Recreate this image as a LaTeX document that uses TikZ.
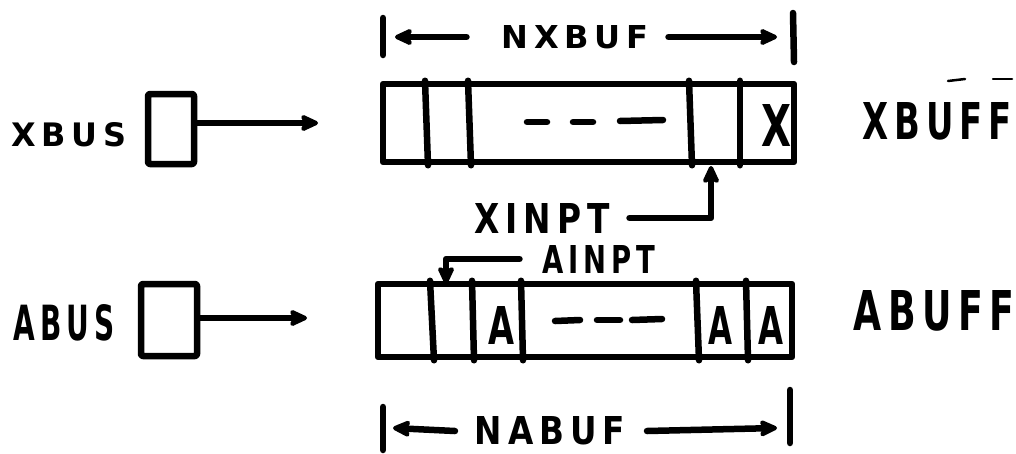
\documentclass[tikz,border=0pt]{standalone}
\usepackage{fontspec}
\setmainfont{DejaVu Sans}
\newfontfamily\hand{DejaVu Sans}[LetterSpace=18]
\usetikzlibrary{arrows.meta}
% hand-lettered label: width, cap height, text
\newcommand\hw[3]{\resizebox{#1pt}{#2pt}{\hand\bfseries #3}}
\begin{document}
\begin{tikzpicture}[x=1pt,y=-1pt,
  ink/.style={line width=6.5pt, line cap=round, line join=round},
  thin ink/.style={line width=2.5pt, line cap=round},
  tip/.style={-{Stealth[length=22pt,width=20pt,inset=5pt,round]}},
  lab/.style={inner sep=0pt, outer sep=0pt},
  cellbox/.style={draw, ink, inner sep=0pt},
  busbox/.style={draw, ink, inner sep=0pt, rounded corners=2pt}]
\useasboundingbox (0,0) rectangle (1016,453);

% ---------- X side ----------
\node[lab] (xbusl) at (69,135) {\hw{115}{24}{XBUS}};
\node[busbox, minimum width=46pt, minimum height=70pt] (xbusbox) at (171,129) {};
\coordinate (xin) at (318,123);
\draw[ink,tip] (xbusbox.east |- xin) -- (xin);

% XBUFF row of cells
\node[cellbox, minimum width=411pt, minimum height=78pt] (xbuf) at (588.5,123) {};
\foreach \a/\b in {425/428, 468/471, 689/692, 740/740}
  \draw[ink] (xbuf.north -| \a,0) -- (xbuf.south -| \b,0);
\draw[ink] (527,122) -- (547,122);
\draw[ink] (573,122) -- (593,122);
\draw[ink] (620,121) -- (663,120);
\node[lab] (xcell) at (776,125) {\hw{30}{42}{X}};
\node[lab] (xbufl) at (937,121) {\hw{150}{37}{XBUFF}};
\draw[thin ink] (948,81) -- (965,79);
\draw[thin ink] (993,79) -- (1012,79);

% NXBUF extent
\node[lab] (nx) at (575,37) {\hw{147}{23}{NXBUF}};
\coordinate (nxl) at (383,37);
\coordinate (nxr) at (793,37);
\draw[ink] (383,18) -- (383,55);
\draw[ink] (793,13) -- (794,62);
\draw[ink,tip] ([xshift=-35pt]nx.west) -- ([xshift=12pt]nxl);
\draw[ink,tip] ([xshift=20pt]nx.east) -- ([xshift=-16pt]nxr);

% XINPT pointer
\node[lab] (xinpt) at (542,218) {\hw{135}{30}{XINPT}};
\coordinate (xpt) at (711,166);
\draw[ink,tip] ([xshift=20pt]xinpt.east) -| (xpt);

% ---------- A side ----------
\node[lab] (abusl) at (64,323) {\hw{101}{36}{ABUS}};
\node[busbox, minimum width=56pt, minimum height=72pt] (abusbox) at (169,320) {};
\coordinate (ain) at (307,318);
\draw[ink,tip] (abusbox.east |- ain) -- (ain);

% ABUFF row of cells
\node[cellbox, minimum width=414pt, minimum height=73pt] (abuf) at (585,320.5) {};
\foreach \a/\b in {430/434, 472/474, 521/523, 696/699, 746/748}
  \draw[ink] (abuf.north -| \a,0) -- (abuf.south -| \b,0);
\draw[ink] (555,321) -- (580,320);
\draw[ink] (597,320) -- (620,320);
\draw[ink] (632,320) -- (662,319);
\node[lab] (a1) at (501,325) {\hw{26}{38}{A}};
\node[lab] (a2) at (720,325) {\hw{24}{38}{A}};
\node[lab] (a3) at (771,325) {\hw{25}{38}{A}};
\node[lab] (abufl) at (934,311) {\hw{161}{40}{ABUFF}};

% AINPT pointer
\node[lab] (ainpt) at (599,259) {\hw{113}{28}{AINPT}};
\coordinate (apt) at (446,284);
\draw[ink,tip] ([xshift=-23pt]ainpt.west) -| (apt);

% NABUF extent
\node[lab] (na) at (550,431) {\hw{150}{28}{NABUF}};
\coordinate (nal) at (383,428);
\coordinate (nar) at (790,428);
\draw[ink] (383,407) -- (383,450);
\draw[ink] (790,390) -- (790,443);
\draw[ink,tip] ([xshift=-20pt]na.west) -- ([xshift=10pt]nal);
\draw[ink,tip] ([xshift=22pt]na.east) -- ([xshift=-13pt]nar);
\end{tikzpicture}
\end{document}
